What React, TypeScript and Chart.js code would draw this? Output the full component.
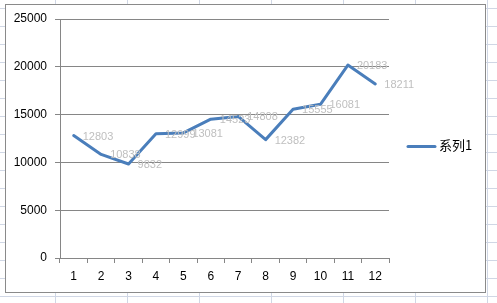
import React, { useEffect, useRef } from "react";
import { Chart, registerables } from "chart.js";

Chart.register(...registerables);

const categories = ["1", "2", "3", "4", "5", "6", "7", "8", "9", "10", "11", "12"];
const seriesName = "系列1";
const values = [12803, 10838, 9832, 12999, 13081, 14523, 14808, 12382, 15555, 16081, 20183, 18211];
const yMin = 0;
const yMax = 25000;
const yStep = 5000;

const LINE_COLOR = "#4A7EBB";
const AXIS_COLOR = "#868686";
const FONT = "'Liberation Sans', Arial, sans-serif";

const sheetPlugin = {
  id: "sheet",
  beforeDraw(chart: any) {
    const ctx = chart.ctx;
    const w = chart.width;
    const h = chart.height;
    ctx.save();
    ctx.fillStyle = "#ffffff";
    ctx.fillRect(0, 0, w, h);
    ctx.strokeStyle = "#D0D7E5";
    ctx.lineWidth = 1;
    ctx.beginPath();
    for (let x = 55.5; x < w; x += 72) {
      ctx.moveTo(x, 0);
      ctx.lineTo(x, h);
    }
    for (let y = 8.5; y < h; y += 18) {
      ctx.moveTo(0, y);
      ctx.lineTo(w, y);
    }
    ctx.stroke();
    ctx.fillStyle = "#ffffff";
    ctx.fillRect(5.5, 4.5, 480, 288);
    ctx.strokeStyle = "#8A8A8A";
    ctx.strokeRect(5.5, 4.5, 480, 288);
    ctx.restore();
  },
};

const labelPlugin = {
  id: "valueLabels",
  afterDatasetsDraw(chart: any) {
    const ctx = chart.ctx;
    ctx.save();
    ctx.font = `11px ${FONT}`;
    ctx.fillStyle = "#BFBFBF";
    ctx.textAlign = "left";
    ctx.textBaseline = "middle";
    chart.data.datasets.forEach((ds: any, i: number) => {
      const meta = chart.getDatasetMeta(i);
      meta.data.forEach((pt: any, j: number) => {
        ctx.fillText(String(ds.data[j]), pt.x + 9, pt.y + 1);
      });
    });
    ctx.restore();
  },
};

const legendPlugin = {
  id: "sideLegend",
  afterDraw(chart: any) {
    const ctx = chart.ctx;
    const ds = chart.data.datasets[0];
    const y = 146.5;
    ctx.save();
    ctx.strokeStyle = ds.borderColor;
    ctx.lineWidth = 3;
    ctx.lineCap = "round";
    ctx.beginPath();
    ctx.moveTo(408, y);
    ctx.lineTo(435, y);
    ctx.stroke();
    ctx.fillStyle = "#000000";
    ctx.font = `13px 'Noto Sans CJK SC', ${FONT}`;
    ctx.textAlign = "left";
    ctx.textBaseline = "middle";
    ctx.fillText(ds.label, 439, y - 1);
    ctx.restore();
  },
};

export default function App() {
  const ref = useRef<HTMLCanvasElement>(null);

  useEffect(() => {
    document.body.style.margin = "0";
    const chart = new Chart(ref.current!, {
      type: "line",
      data: {
        labels: categories,
        datasets: [
          {
            label: seriesName,
            data: values,
            borderColor: LINE_COLOR,
            backgroundColor: LINE_COLOR,
            borderWidth: 3,
            pointRadius: 0,
            tension: 0,
            borderJoinStyle: "round",
            borderCapStyle: "round",
          },
        ],
      },
      options: {
        responsive: false,
        animation: false,
        devicePixelRatio: 1,
        layout: { padding: { left: 0, top: 19, right: 108, bottom: 0 } },
        plugins: {
          legend: { display: false },
          tooltip: { enabled: false },
        },
        scales: {
          x: {
            offset: true,
            grid: {
              offset: true,
              drawOnChartArea: false,
              drawTicks: true,
              tickLength: 5,
              color: AXIS_COLOR,
            },
            border: { color: AXIS_COLOR, width: 1 },
            ticks: {
              color: "#000000",
              font: { family: FONT, size: 12 },
              padding: 6,
              maxRotation: 0,
              autoSkip: false,
            },
            afterFit(scale: any) {
              scale.height = 45;
            },
          },
          y: {
            min: yMin,
            max: yMax,
            grid: {
              color: AXIS_COLOR,
              drawTicks: true,
              tickLength: 5,
            },
            border: { color: AXIS_COLOR, width: 1 },
            ticks: {
              stepSize: yStep,
              color: "#000000",
              font: { family: FONT, size: 12 },
              padding: 8,
              callback: (v: any) => String(v),
            },
            afterFit(scale: any) {
              scale.width = 60;
            },
          },
        },
      },
      plugins: [sheetPlugin, labelPlugin, legendPlugin],
    } as any);
    return () => chart.destroy();
  }, []);

  return (
    <div style={{ width: 497, height: 303 }}>
      <canvas ref={ref} width={497} height={303} />
    </div>
  );
}
